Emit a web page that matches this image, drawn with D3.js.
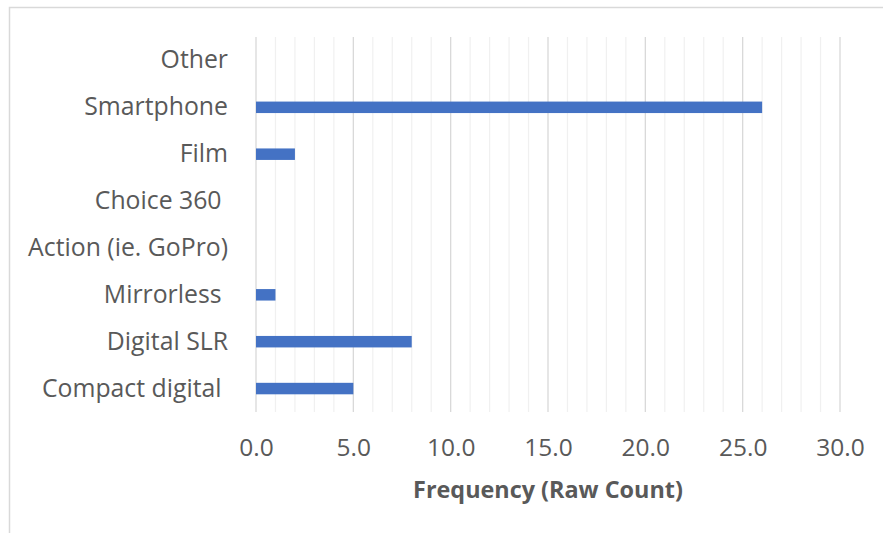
<!DOCTYPE html>
<html><head><meta charset="utf-8">
<script src="https://cdn.jsdelivr.net/npm/d3@7"></script>
<style>html,body{margin:0;padding:0;background:#fff;}svg{display:block;}</style>
</head><body>
<svg id="chart" width="883" height="533"></svg>
<script>
const categories = ["Other", "Smartphone", "Film", "Choice 360 ", "Action (ie. GoPro)", "Mirrorless ", "Digital SLR", "Compact digital "];
const values = [0, 26, 2, 0, 0, 1, 8, 5];
const xTicks = [0, 5, 10, 15, 20, 25, 30];
const minorTicks = d3.range(0, 31, 1);
const axisTitle = "Frequency (Raw Count)";

const svg = d3.select("#chart");
const font = "'Open Sans', sans-serif";
const margin = {left: 256, right: 43, top: 37, bottom: 121};
const W = 883, H = 533;

svg.append("rect").attr("x", 9.5).attr("y", 7.5).attr("width", 900).attr("height", 600)
  .attr("fill", "#fff").attr("stroke", "#d9d9d9").attr("stroke-width", 1.5);

const x = d3.scaleLinear().domain([0, 30]).range([margin.left, W - margin.right]);
const y = d3.scaleBand().domain(categories).range([margin.top, H - margin.bottom]).paddingInner(0.755).paddingOuter(0.3775);

const g = svg.append("g");
g.selectAll("line.minor").data(minorTicks.filter(d => d % 5 !== 0)).join("line")
  .attr("x1", d => x(d)).attr("x2", d => x(d))
  .attr("y1", margin.top).attr("y2", H - margin.bottom)
  .attr("stroke", "#f0f0f0").attr("stroke-width", 1.2);
g.selectAll("line.major").data(xTicks).join("line")
  .attr("x1", d => x(d)).attr("x2", d => x(d))
  .attr("y1", margin.top).attr("y2", H - margin.bottom)
  .attr("stroke", "#d9d9d9").attr("stroke-width", 1.3);

g.selectAll("rect.bar").data(categories).join("rect")
  .attr("x", x(0)).attr("y", d => y(d))
  .attr("width", (d, i) => x(values[i]) - x(0))
  .attr("height", y.bandwidth())
  .attr("fill", "#4472c4");

const xa = svg.append("g").attr("transform", `translate(0,${H - margin.bottom})`)
  .call(d3.axisBottom(x).tickValues(xTicks).tickFormat(d3.format(".1f")).tickSize(0).tickPadding(27));
xa.select(".domain").remove();
xa.selectAll("text").attr("font-family", font).attr("font-size", 24.5).attr("fill", "#595959");

const ya = svg.append("g").attr("transform", `translate(${margin.left},0)`)
  .call(d3.axisLeft(y).tickSize(0).tickPadding(28));
ya.select(".domain").remove();
ya.selectAll("text").attr("font-family", font).attr("font-size", 24.8).attr("fill", "#595959")
  .style("white-space", "pre").attr("xml:space", "preserve");

svg.append("text").attr("x", (x(0) + x(30)) / 2).attr("y", 498)
  .attr("text-anchor", "middle").attr("font-family", font).attr("font-weight", "bold")
  .attr("font-size", 23.4).attr("fill", "#595959").text(axisTitle);
</script>
</body></html>
